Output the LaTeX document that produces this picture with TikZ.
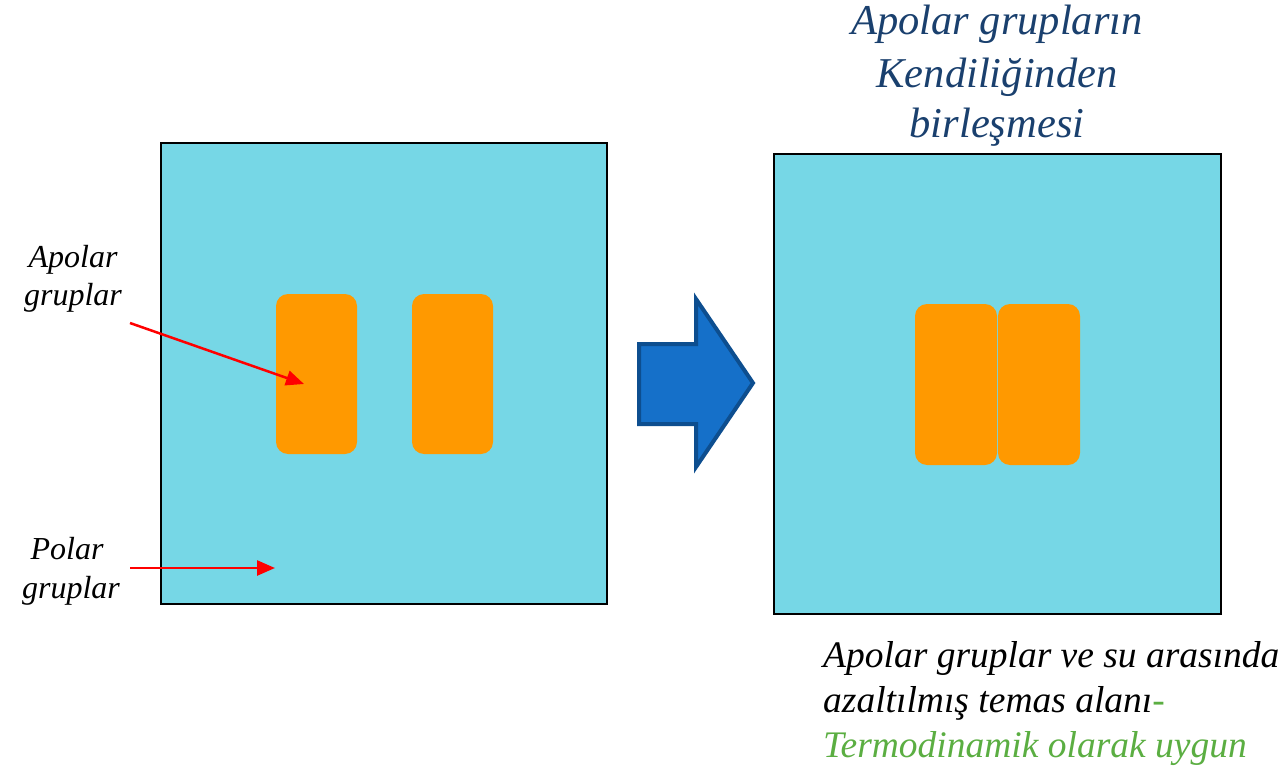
\documentclass[tikz,border=0pt]{standalone}
\usepackage{fontspec}
\setmainfont{Liberation Serif}
\usetikzlibrary{arrows.meta}
\definecolor{water}{HTML}{76D7E6}
\definecolor{apolar}{HTML}{FF9900}
\definecolor{bigfill}{HTML}{1570C9}
\definecolor{bigedge}{HTML}{0D4E8F}
\definecolor{titleblue}{HTML}{1A406E}
\definecolor{okgreen}{HTML}{5BAE42}
\tikzset{
  waterbox/.style={draw=black,line width=2pt,fill=water},
  blob/.style={fill=apolar,rounded corners=12pt},
  redarrow/.style={draw=red,line width=2.5pt,-{Triangle[length=18pt,width=15pt]}},
  lbl/.style={font=\fontsize{32}{38}\selectfont\itshape,anchor=base,inner sep=0pt},
  ttl/.style={font=\fontsize{42.5}{51}\selectfont\itshape,text=titleblue,anchor=base,inner sep=0pt},
  note/.style={font=\fontsize{37.5}{45}\selectfont\itshape,anchor=base west,inner sep=0pt},
}
\begin{document}
\begin{tikzpicture}[x=1pt,y=-1pt]
\useasboundingbox (0,0) rectangle (1285,770);
% left panel
\draw[waterbox] (161,143) rectangle (607,604);
\fill[blob] (276,294) rectangle (357,454);
\fill[blob] (412,294) rectangle (493,454);
% right panel
\draw[waterbox] (774,154) rectangle (1221,614);
\fill[blob] (915,304) rectangle (997,465);
\fill[blob] (998,304) rectangle (1080,465);
% big arrow
\draw[fill=bigfill,draw=bigedge,line width=4pt,line join=miter]
  (639,344) -- (696,344) -- (696,299) -- (753,383) -- (696,467) -- (696,424) -- (639,424) -- cycle;
% left labels
\node[lbl] (ap1) at (73,267) {Apolar};
\node[lbl] (ap2) at (73,305) {gruplar};
\node[lbl] (po1) at (67,559) {Polar};
\node[lbl] (po2) at (71,598) {gruplar};
\coordinate (apstart) at (130,323);
\coordinate (apend) at (304,384);
\coordinate (postart) at (130,568);
\coordinate (poend) at (275,568);
\draw[redarrow] (apstart) -- (apend);
\draw[redarrow] (postart) -- (poend);
% title
\node[ttl] (t1) at (997,35) {Apolar grupların};
\node[ttl] (t2) at (997,88) {Kendiliğinden};
\node[ttl] (t3) at (997,138) {birleşmesi};
% bottom note
\node[note] (n1) at (823,667) {Apolar gruplar ve su arasında};
\node[note] (n2) at (823,712) {azaltılmış temas alanı\textcolor{okgreen}{-}};
\node[note,text=okgreen] (n3) at (823,757) {Termodinamik olarak uygun};
\end{tikzpicture}
\end{document}
